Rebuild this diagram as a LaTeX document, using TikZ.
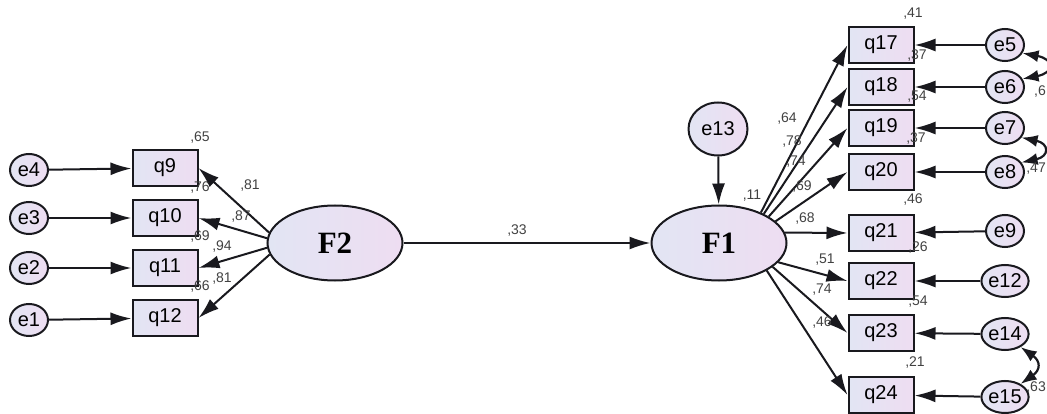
\documentclass[tikz,border=0pt]{standalone}
\usepackage{fontspec}
\setmainfont{Liberation Serif}
\setsansfont{Liberation Sans}
\usetikzlibrary{arrows.meta,shapes.geometric}
\definecolor{boxleft}{RGB}{226,229,243}
\definecolor{boxright}{RGB}{238,221,242}
\definecolor{linecol}{RGB}{25,25,30}
\definecolor{numcol}{RGB}{65,65,65}

\begin{document}
\begin{tikzpicture}[x=1pt,y=-1pt,
    obs/.style={draw=linecol,line width=2pt,left color=boxleft,right color=boxright,
        minimum width=65pt,minimum height=36pt,inner sep=0pt,font=\sffamily\fontsize{20}{20}\selectfont},
    err/.style={ellipse,draw=linecol,line width=2pt,left color=boxleft,right color=boxright,
        minimum width=38pt,minimum height=32pt,inner sep=0pt,font=\sffamily\fontsize{20}{20}\selectfont},
    lat/.style={ellipse,draw=linecol,line width=2pt,left color=boxleft,right color=boxright,
        minimum width=135pt,minimum height=75pt,font=\bfseries\fontsize{31}{31}\selectfont},
    coef/.style={font=\sffamily\fontsize{14}{14}\selectfont,text=numcol,inner sep=0pt},
    reg/.style={draw=linecol,line width=2pt,-{Latex[length=21pt,width=13pt]}},
    cov/.style={draw=linecol,line width=2.2pt,{Latex[length=16pt,width=12pt]}-{Latex[length=16pt,width=12pt]}}]

    \useasboundingbox (0,0) rectangle (1047,414);

    %% factors
    \node[lat] (F2) at (335,243) {F2};
    \node[lat] (F1) at (719,243) {F1};
    \node[err,minimum width=59pt,minimum height=53pt] (e13) at (718,129) {e13};

    %% F2 items
    \node[obs] (q9) at (165,168) {q9};
    \node[obs] (q10) at (165,218) {q10};
    \node[obs] (q11) at (165,268) {q11};
    \node[obs] (q12) at (165,318) {q12};

    \node[err] (e4) at (29,170) {e4};
    \node[err] (e3) at (29,218) {e3};
    \node[err] (e2) at (29,268) {e2};
    \node[err] (e1) at (29,320) {e1};

    %% F1 items
    \node[obs] (q17) at (881,45) {q17};
    \node[obs] (q18) at (881,87) {q18};
    \node[obs] (q19) at (881,128) {q19};
    \node[obs] (q20) at (881,172) {q20};
    \node[obs] (q21) at (881,233) {q21};
    \node[obs] (q22) at (881,281) {q22};
    \node[obs] (q23) at (881,333) {q23};
    \node[obs] (q24) at (881,395) {q24};

    \node[err] (e5) at (1005,45) {e5};
    \node[err] (e6) at (1005,87) {e6};
    \node[err] (e7) at (1005,128) {e7};
    \node[err] (e8) at (1005,172) {e8};
    \node[err] (e9) at (1005,231) {e9};
    \node[err] (e12) at (1005,281) {e12};
    \node[err] (e14) at (1005,334) {e14};
    \node[err] (e15) at (1005,397) {e15};

    %% paths
    \draw[reg] (F2) -- (F1);
    \draw[reg] (e13) -- (F1);

    \draw[reg] (e4) -- (q9);
    \draw[reg] (e3) -- (q10);
    \draw[reg] (e2) -- (q11);
    \draw[reg] (e1) -- (q12);
    \draw[reg] (F2.171) -- (q9.east);
    \draw[reg] (F2.176) -- (q10.east);
    \draw[reg] (F2.184) -- (q11.east);
    \draw[reg] (F2.190) -- (q12.east);

    \draw[reg] (F1.36) -- (q17.west);
    \draw[reg] (F1.33) -- (q18.west);
    \draw[reg] (F1.28) -- (q19.west);
    \draw[reg] (F1.21) -- (q20.west);
    \draw[reg] (F1.9) -- (q21.west);
    \draw[reg] (F1.-18) -- (q22.west);
    \draw[reg] (F1.-24) -- (q23.west);
    \draw[reg] (F1.-30) -- (q24.west);

    \draw[reg] (e5) -- (q17);
    \draw[reg] (e6) -- (q18);
    \draw[reg] (e7) -- (q19);
    \draw[reg] (e8) -- (q20);
    \draw[reg] (e9) -- (q21);
    \draw[reg] (e12) -- (q22);
    \draw[reg] (e14) -- (q23);
    \draw[reg] (e15) -- (q24);

    %% covariances
    \draw[cov] (e5.-25) .. controls +(32,6) and +(32,-6) .. (e6.25);
    \draw[cov] (e7.-30) .. controls +(28,6) and +(28,-6) .. (e8.30);
    \draw[cov] (e14.-40) .. controls +(20,14) and +(20,-14) .. (e15.40);

    %% estimates
    \node[coef] (r9) at (200,138) {,65};
    \node[coef] (r10) at (200,188) {,76};
    \node[coef] (r11) at (200,237) {,69};
    \node[coef] (r12) at (200,287) {,66};
    \node[coef] (l9) at (250,186) {,81};
    \node[coef] (l10) at (241,217) {,87};
    \node[coef] (l11) at (222,247) {,94};
    \node[coef] (l12) at (222,279) {,81};

    \node[coef] (r17) at (913,14) {,41};
    \node[coef] (r18) at (917,56) {,37};
    \node[coef] (r19) at (917,97) {,54};
    \node[coef] (r20) at (916,139) {,37};
    \node[coef] (r21) at (913,200) {,46};
    \node[coef] (r22) at (918,248) {,26};
    \node[coef] (r23) at (918,302) {,54};
    \node[coef] (r24) at (915,363) {,21};

    \node[coef] (l17) at (787,119) {,64};
    \node[coef] (l18) at (792,142) {,78};
    \node[coef] (l19) at (796,162) {,74};
    \node[coef] (l20) at (802,187) {,69};
    \node[coef] (l21) at (805,219) {,68};
    \node[coef] (l22) at (825,260) {,51};
    \node[coef] (l23) at (822,290) {,74};
    \node[coef] (l24) at (822,323) {,46};

    \node[coef] (r1) at (752,196) {,11};
    \node[coef] (b12) at (517,231) {,33};
    \node[coef,anchor=east] (c56) at (1046,92) {,6};
    \node[coef,anchor=east] (c78) at (1046,169) {,47};
    \node[coef,anchor=east] (c1415) at (1046,388) {,63};
\end{tikzpicture}
\end{document}
